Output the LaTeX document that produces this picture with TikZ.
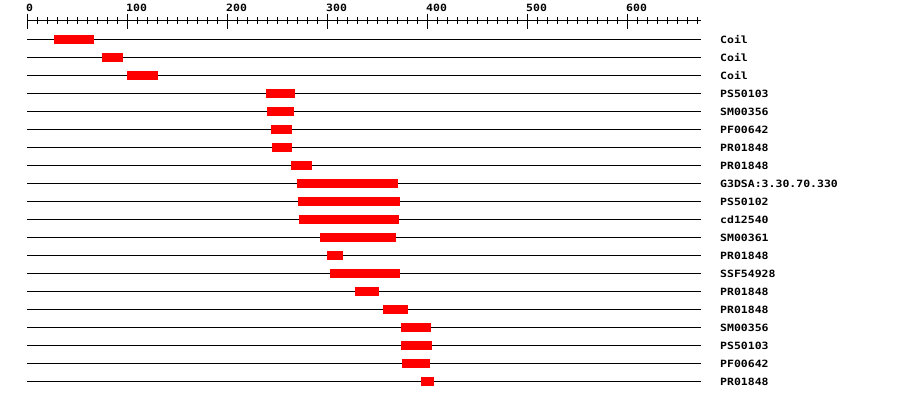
\documentclass[tikz,border=0pt]{standalone}
\usepackage{fontspec}
\newfontfamily\labfont[FakeStretch=1.15]{DejaVu Sans Mono}
\definecolor{barred}{HTML}{FF0000}
\tikzset{
  lab/.style={font=\labfont\bfseries\fontsize{10}{10}\selectfont, inner sep=0pt, anchor=base west},
  rowline/.style={draw=black, line width=1pt},
  bar/.style={fill=barred, draw=none},
  tick/.style={draw=black, line width=1pt}
}
\begin{document}
\begin{tikzpicture}[x=1pt,y=-1pt]
\useasboundingbox (0,0) rectangle (900,400);
% axis
\draw[tick] (27,20) -- (701,20);
\foreach \v in {0,10,...,670} {
  \draw[tick] (27+\v,17) -- (27+\v,24);
}
\foreach \v in {0,100,...,600} {
  \draw[tick] (27+\v,13.5) -- (27+\v,28.5);
  \node[lab] (ax\v) at (26+\v,11) {\v};
}
% rows
\foreach \s/\e/\t [count=\i] in {
  54/94/Coil, 102/123/Coil, 127/158/Coil, 266/295/PS50103, 267/294/SM00356,
  271/292/PF00642, 272/292/PR01848, 291/312/PR01848, 297/398/G3DSA:3.30.70.330,
  298/400/PS50102, 299/399/cd12540, 320/396/SM00361, 327/343/PR01848,
  330/400/SSF54928, 355/379/PR01848, 383/408/PR01848, 401/431/SM00356,
  401/432/PS50103, 402/430/PF00642, 421/434/PR01848} {
  \pgfmathsetmacro{\yy}{39.5+18*(\i-1)}
  \coordinate (l\i) at (27,\yy);
  \coordinate (r\i) at (701,\yy);
  \draw[rowline] (l\i) -- (r\i);
  \fill[bar] (\s,\yy-4.5) rectangle (\e,\yy+4.5);
  \node[lab] (t\i) at (720,\yy+3.5) {\t};
}
\end{tikzpicture}
\end{document}
